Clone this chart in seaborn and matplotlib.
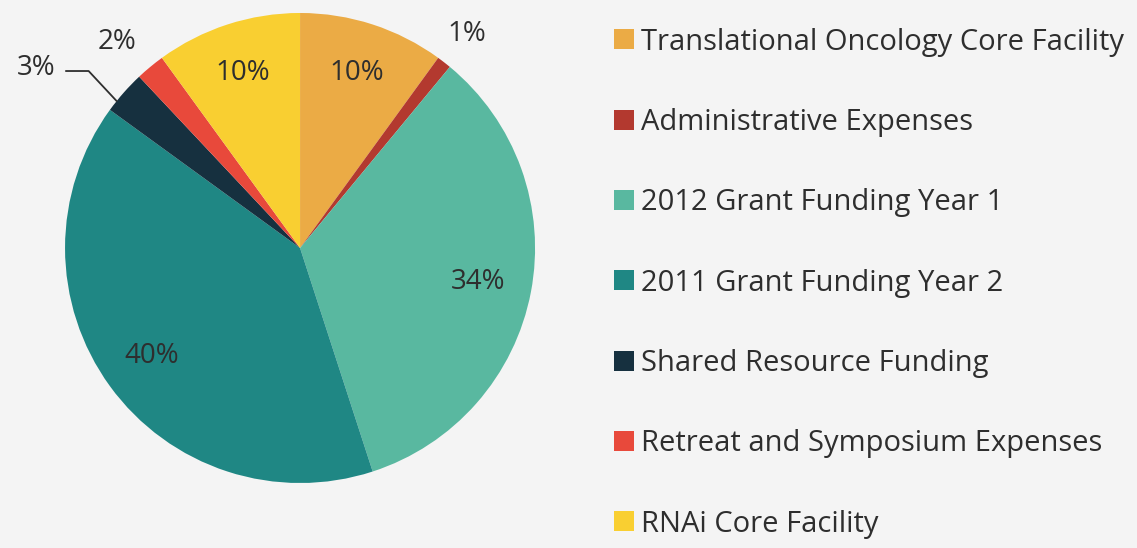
import numpy as np
import matplotlib.pyplot as plt
import seaborn as sns

# Data
categories = ['Translational Oncology Core Facility', 'Administrative Expenses',
              '2012 Grant Funding Year 1', '2011 Grant Funding Year 2',
              'Shared Resource Funding', 'Retreat and Symposium Expenses',
              'RNAi Core Facility']
shares = [10, 1, 34, 40, 3, 2, 10]
colors = ['#EBAB45', '#B3392F', '#59B8A0', '#1F8784', '#16303F', '#E8493B', '#F9CF31']

sns.set_style('white')
plt.rcParams['font.family'] = ['Open Sans', 'DejaVu Sans']
text_color = '#2E2E2E'
bg = '#F4F4F4'

fig = plt.figure(figsize=(11.37, 5.48), dpi=100)
fig.patch.set_facecolor(bg)
ax = fig.add_axes([0.0572, 0.1186, 0.4134, 0.8577])
ax.set_facecolor(bg)

wedges, _ = ax.pie(shares, colors=colors, startangle=90, counterclock=False,
                   wedgeprops=dict(linewidth=0))
ax.set_aspect('equal')
ax.set_xlim(-1, 1)
ax.set_ylim(-1, 1)
ax.axis('off')


def share_angle(pos):
    # angle (radians) at a cumulative share position, clockwise from 12 o'clock
    return np.deg2rad(90 - 360 * pos / sum(shares))


cum = np.concatenate([[0], np.cumsum(shares)])

# Percentage labels: inside for the big slices, outside for the small ones
# (radius, fraction along the slice)
label_pos = {0: (0.785, 0.5), 2: (0.77, 0.5), 3: (0.78, 0.5), 6: (0.785, 0.5),
             1: (1.155, 0.5), 5: (1.17, 0.22)}
for i, (r, frac) in label_pos.items():
    a = share_angle(cum[i] + frac * shares[i])
    ax.text(r * np.cos(a), r * np.sin(a), f'{shares[i]}%', ha='center', va='center',
            fontsize=20, color=text_color, clip_on=False)

# 3% label with leader line to the slice edge
a = share_angle(cum[4] + 0.25 * shares[4])
ax.annotate(f'{shares[4]}%', xy=(np.cos(a), np.sin(a)), xytext=(-1.04, 0.765),
            ha='right', va='center', fontsize=20, color=text_color,
            annotation_clip=False,
            arrowprops=dict(arrowstyle='-', color=text_color, lw=1.3,
                            connectionstyle='angle,angleA=0,angleB=-47,rad=0',
                            relpos=(1, 0.4), shrinkA=5, shrinkB=0))

leg = fig.legend(wedges, categories, loc='upper left', bbox_to_anchor=(0.530, 0.971),
                 frameon=False, fontsize=21, handlelength=0.69, handleheight=0.67,
                 handletextpad=0.24, labelspacing=1.76, borderaxespad=0)
for t in leg.get_texts():
    t.set_color(text_color)

fig.savefig('out.png', dpi=100, facecolor=fig.get_facecolor())
